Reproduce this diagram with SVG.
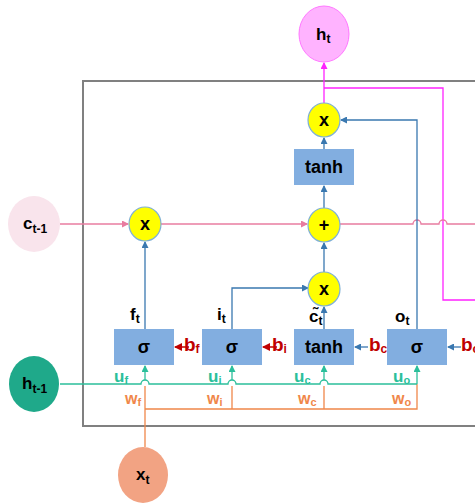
<svg xmlns="http://www.w3.org/2000/svg" width="475" height="503" viewBox="0 0 475 503">
<defs>
<style>
text{font-family:"Liberation Sans",Arial,sans-serif;font-weight:bold}
.lbl{font-size:17px;fill:#000}
.sub{font-size:12px}
.op{font-size:18px;fill:#000;text-anchor:middle}
.box{fill:#82aee0}
.yc{fill:#ffff00;stroke:#7fb0d6;stroke-width:1.2}
.blue{stroke:#3a78b0;stroke-width:1.3;fill:none}
.pink{stroke:#e87ca0;stroke-width:1.3;fill:none}
.mag{stroke:#ff22ff;stroke-width:1.3;fill:none}
.teal{stroke:#2bbf9b;stroke-width:1.3;fill:none}
.org{stroke:#f0874a;stroke-width:1.3;fill:none}
.red{stroke:#c00000;stroke-width:1.5;fill:none}
.tl{fill:#2bbf9b;font-size:17px}
.ol{fill:#f0874a;font-size:16px}
.rl{fill:#c00000;font-size:19px}
</style>
<marker id="aB" markerWidth="7" markerHeight="7" refX="6" refY="3.5" orient="auto" markerUnits="userSpaceOnUse"><path d="M0,0 L7,3.5 L0,7 z" fill="#3a78b0"/></marker>
<marker id="aP" markerWidth="7" markerHeight="7" refX="6" refY="3.5" orient="auto" markerUnits="userSpaceOnUse"><path d="M0,0 L7,3.5 L0,7 z" fill="#e87ca0"/></marker>
<marker id="aM" markerWidth="7" markerHeight="7" refX="6" refY="3.5" orient="auto" markerUnits="userSpaceOnUse"><path d="M0,0 L7,3.5 L0,7 z" fill="#ff22ff"/></marker>
<marker id="aT" markerWidth="7" markerHeight="7" refX="6" refY="3.5" orient="auto" markerUnits="userSpaceOnUse"><path d="M0,0 L7,3.5 L0,7 z" fill="#2bbf9b"/></marker>
<marker id="aR" markerWidth="8" markerHeight="8" refX="7" refY="4" orient="auto" markerUnits="userSpaceOnUse"><path d="M0,0 L8,4 L0,8 z" fill="#c00000"/></marker>
</defs>
<rect width="475" height="503" fill="#ffffff"/>
<rect x="83" y="81" width="400" height="345" fill="none" stroke="#808080" stroke-width="2"/>

<g id="connectors">
<path class="mag" d="M324,103 L324,63" marker-end="url(#aM)"/>
<path class="mag" d="M324,88 L443,88 L443,300 L476,300"/>
<path class="pink" d="M60,224 L128,224" marker-end="url(#aP)"/>
<path class="pink" d="M161,224 L307,224" marker-end="url(#aP)"/>
<path class="pink" d="M340,224 L413,224 A4,4 0 0 1 421,224 L439,224 A4,4 0 0 1 447,224 L476,224"/>
<path class="blue" d="M324,149 L324,138" marker-end="url(#aB)"/>
<path class="blue" d="M324,208 L324,186" marker-end="url(#aB)"/>
<path class="blue" d="M324,272 L324,243" marker-end="url(#aB)"/>
<path class="blue" d="M324,329 L324,307" marker-end="url(#aB)"/>
<path class="blue" d="M232,329 L232,288 L308,288" marker-end="url(#aB)"/>
<path class="blue" d="M145,329 L145,242" marker-end="url(#aB)"/>
<path class="blue" d="M417,329 L417,120 L341,120" marker-end="url(#aB)"/>
<path class="org" d="M145,447 L145,386 M145,409 L417,409 L417,384 M232,409 L232,386 M324,409 L324,386"/>
<path class="teal" d="M60,384 L141,384 A4,4 0 0 1 149,384 L228,384 A4,4 0 0 1 236,384 L320,384 A4,4 0 0 1 328,384 L417,384"/>
<path class="teal" d="M145,380 L145,366" marker-end="url(#aT)"/>
<path class="teal" d="M232,380 L232,366" marker-end="url(#aT)"/>
<path class="teal" d="M324,380 L324,366" marker-end="url(#aT)"/>
<path class="teal" d="M417,384 L417,366" marker-end="url(#aT)"/>
<path class="red" d="M189,347 L175,347" marker-end="url(#aR)"/>
<path class="red" d="M277,347 L263,347" marker-end="url(#aR)"/>
<path class="blue" d="M368,347 L355,347" marker-end="url(#aB)"/>
<path class="blue" d="M461,347 L448,347" marker-end="url(#aB)"/>
</g>

<g id="ht"><ellipse cx="324" cy="34" rx="25" ry="28" fill="#ffb3ff" stroke="#ff77ff" stroke-width="1"/>
<text x="316" y="40" class="lbl" font-size="18">h<tspan class="sub" dy="3">t</tspan></text></g>
<g id="ctm1"><ellipse cx="34" cy="224" rx="26" ry="28" fill="#f9e4ec"/>
<text x="23" y="229" class="lbl">c<tspan class="sub" dy="4">t-1</tspan></text></g>
<g id="htm1"><ellipse cx="34" cy="384" rx="25" ry="28" fill="#1fa98a"/>
<text x="22" y="389" class="lbl">h<tspan class="sub" dy="4">t-1</tspan></text></g>
<g id="xt"><ellipse cx="143" cy="475" rx="25" ry="28" fill="#f2a383"/>
<text x="136" y="480" class="lbl">x<tspan class="sub" dy="4">t</tspan></text></g>

<g id="mulOut"><ellipse class="yc" cx="324" cy="120" rx="16" ry="17"/><text x="324" y="126" class="op">x</text></g>
<g id="tanhOut"><rect class="box" x="294" y="149" width="60" height="36"/><text x="324" y="173" class="op" font-size="17">tanh</text></g>
<g id="add"><ellipse class="yc" cx="324" cy="225" rx="16" ry="17"/><text x="324" y="231" class="op">+</text></g>
<g id="mulF"><ellipse class="yc" cx="145" cy="224" rx="16" ry="17"/><text x="145" y="230" class="op">x</text></g>
<g id="mulI"><ellipse class="yc" cx="324" cy="289" rx="16" ry="17"/><text x="324" y="295" class="op">x</text></g>

<g id="gateF"><rect class="box" x="114" y="329" width="60" height="36"/><text x="144" y="353" class="op">σ</text>
<text x="130" y="320" class="lbl" font-size="16">f<tspan class="sub" dy="3">t</tspan></text>
<text x="184" y="351" class="rl">b<tspan font-size="12" dy="2">f</tspan></text>
<text x="114" y="382" class="tl">u<tspan font-size="11" dy="2">f</tspan></text>
<text x="125" y="404" class="ol">w<tspan font-size="11" dy="2">f</tspan></text></g>
<g id="gateI"><rect class="box" x="202" y="329" width="60" height="36"/><text x="232" y="353" class="op">σ</text>
<text x="217" y="320" class="lbl" font-size="16">i<tspan class="sub" dy="3">t</tspan></text>
<text x="272" y="351" class="rl">b<tspan font-size="12" dy="2">i</tspan></text>
<text x="208" y="382" class="tl">u<tspan font-size="11" dy="2">i</tspan></text>
<text x="207" y="404" class="ol">w<tspan font-size="11" dy="2">i</tspan></text></g>
<g id="gateC"><rect class="box" x="294" y="329" width="60" height="36"/><text x="324" y="353" class="op" font-size="17">tanh</text>
<text x="309" y="322" class="lbl" font-size="16">c̃<tspan class="sub" dy="3">t</tspan></text>
<text x="369" y="351" class="rl">b<tspan font-size="12" dy="2">c</tspan></text>
<text x="294" y="382" class="tl">u<tspan font-size="11" dy="2">c</tspan></text>
<text x="298" y="404" class="ol">w<tspan font-size="11" dy="2">c</tspan></text></g>
<g id="gateO"><rect class="box" x="387" y="329" width="60" height="36"/><text x="417" y="353" class="op">σ</text>
<text x="395" y="322" class="lbl" font-size="16">o<tspan class="sub" dy="3">t</tspan></text>
<text x="461" y="351" class="rl">b<tspan font-size="12" dy="2">o</tspan></text>
<text x="393" y="382" class="tl">u<tspan font-size="11" dy="2">o</tspan></text>
<text x="392" y="404" class="ol">w<tspan font-size="11" dy="2">o</tspan></text></g>
</svg>
